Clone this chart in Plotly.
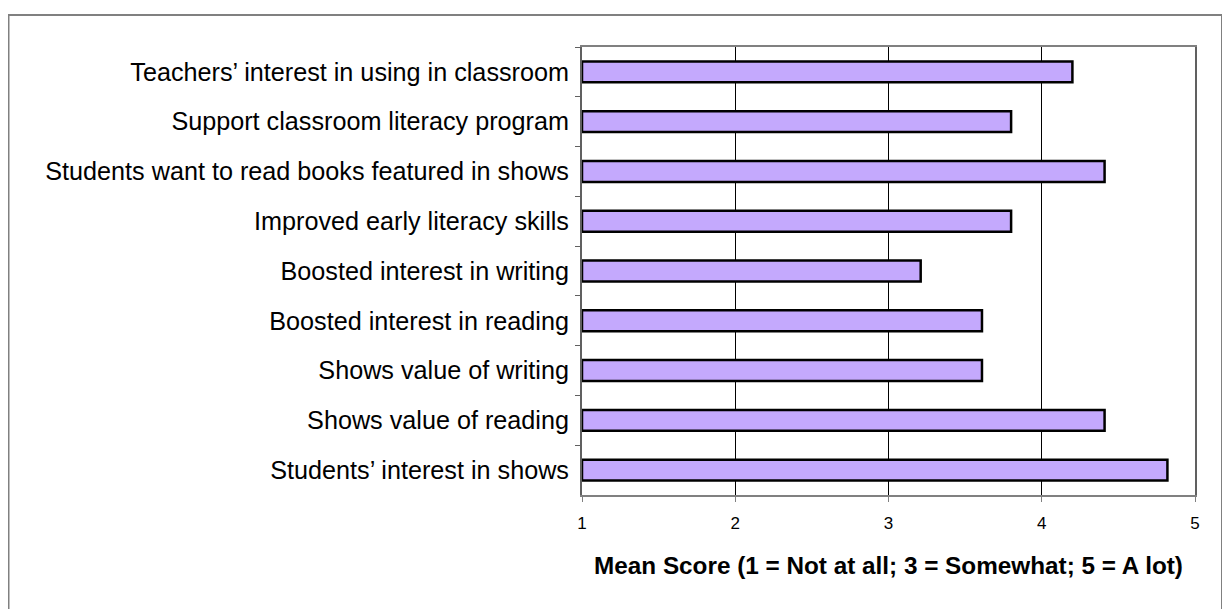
import plotly.graph_objects as go

categories = [
    "Teachers’ interest in using in classroom",
    "Support classroom literacy program",
    "Students want to read books featured in shows",
    "Improved early literacy skills",
    "Boosted interest in writing",
    "Boosted interest in reading",
    "Shows value of writing",
    "Shows value of reading",
    "Students’ interest in shows",
]
mean_scores = [4.2, 3.8, 4.41, 3.8, 3.21, 3.61, 3.61, 4.41, 4.82]
x_ticks = [1, 2, 3, 4, 5]
x_title = "Mean Score (1 = Not at all; 3 = Somewhat; 5 = A lot)"

# page body has an 8px margin; work in screen pixels and subtract it
OFF = 8
W, H = 1230 - OFF, 609 - OFF
L, R, T, B = 582 - OFF, 1195 - OFF, 46.5 - OFF, 495 - OFF

fig = go.Figure()
fig.add_trace(go.Bar(
    x=[v - 1 for v in mean_scores], y=categories, orientation="h", base=1,
    marker=dict(color="#C4A9FD", line=dict(color="black", width=2.5)),
    showlegend=False, hoverinfo="skip",
))

fig.update_layout(
    width=W, height=H,
    margin=dict(l=L, r=W - R, t=T, b=H - B, autoexpand=False),
    paper_bgcolor="white", plot_bgcolor="white",
    bargap=0.58,
    font=dict(family="Liberation Sans, Arial, sans-serif", color="black"),
    xaxis=dict(
        range=[1, 5], tickvals=x_ticks, ticktext=[str(t) for t in x_ticks],
        showgrid=True, gridcolor="black", gridwidth=1,
        showline=True, linecolor="#808080", linewidth=2, mirror=True,
        ticks="outside", ticklen=5, tickcolor="#808080", tickwidth=1,
        tickfont=dict(size=17), ticklabelstandoff=7, zeroline=False,
        title=dict(text="<b>" + x_title + "</b>", font=dict(size=24.3), standoff=25),
    ),
    yaxis=dict(
        autorange="reversed", type="category",
        showline=True, linecolor="#606060", linewidth=2, mirror=True,
        ticks="outside", ticklen=5, tickcolor="#606060", tickwidth=1,
        tickson="boundaries", showgrid=False,
        tickfont=dict(size=25.2), ticklabelstandoff=6,
    ),
)

def px_x(p):
    return (p - OFF - L) / (R - L)

def px_y(p):
    return (B - (p - OFF)) / (B - T)

# outer chart frame
fig.add_shape(type="rect", xref="paper", yref="paper",
              x0=px_x(8.5), x1=px_x(1222), y0=px_y(640), y1=px_y(14.5),
              line=dict(color="#808080", width=2), fillcolor="rgba(0,0,0,0)",
              layer="below")

fig.write_html("out.html")
